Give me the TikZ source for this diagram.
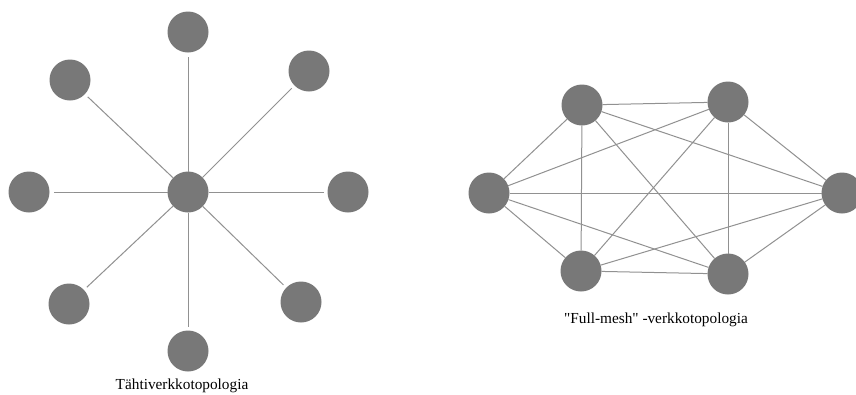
\documentclass[tikz,border=0pt]{standalone}
\usepackage{fontspec}
\setmainfont{Liberation Serif}[Ligatures=TeXOff]
\definecolor{nodegray}{RGB}{120,120,120}
\definecolor{linkgray}{RGB}{145,145,145}
\begin{document}
\begin{tikzpicture}[x=1pt,y=-1pt,
  host/.style={circle,fill=nodegray,draw=none,minimum size=41pt,inner sep=0pt,outer sep=0pt},
  link/.style={draw=linkgray,line width=1pt},
  caption/.style={font=\fontsize{15.3}{18}\selectfont,text=black,inner sep=0pt}]
\useasboundingbox (0,0) rectangle (856,394);
\clip (0,0) rectangle (856,394);
\fill[white] (0,0) rectangle (856,394);

% star topology
\node[host] (hub) at (188,192) {};
\node[host] (s1) at (188,32) {};
\node[host] (s2) at (309,71) {};
\node[host] (s3) at (348,192) {};
\node[host] (s4) at (301,302) {};
\node[host] (s5) at (188,351) {};
\node[host] (s6) at (69,304) {};
\node[host] (s7) at (29,192) {};
\node[host] (s8) at (70,80) {};
\foreach \s in {s1,s2,s3,s4,s5,s6,s7,s8}
  \draw[link,shorten >=4pt] (hub) -- (\s);
\node[caption] (starlabel) at (182,386) {Tähtiverkkotopologia};

% full-mesh topology: every pair of hosts is linked
\node[host] (m1) at (489,193) {};
\node[host] (m2) at (582,105) {};
\node[host] (m3) at (728,102) {};
\node[host] (m4) at (842,193) {};
\node[host] (m5) at (728,274) {};
\node[host] (m6) at (581,271) {};
\foreach \a/\b in {m1/m2,m1/m3,m1/m4,m1/m5,m1/m6,
                   m2/m3,m2/m4,m2/m5,m2/m6,
                   m3/m4,m3/m5,m3/m6,
                   m4/m5,m4/m6,
                   m5/m6}
  \draw[link] (\a) -- (\b);
\node[caption] (meshlabel) at (656,320) {"Full-mesh" -verkkotopologia};
\end{tikzpicture}
\end{document}
